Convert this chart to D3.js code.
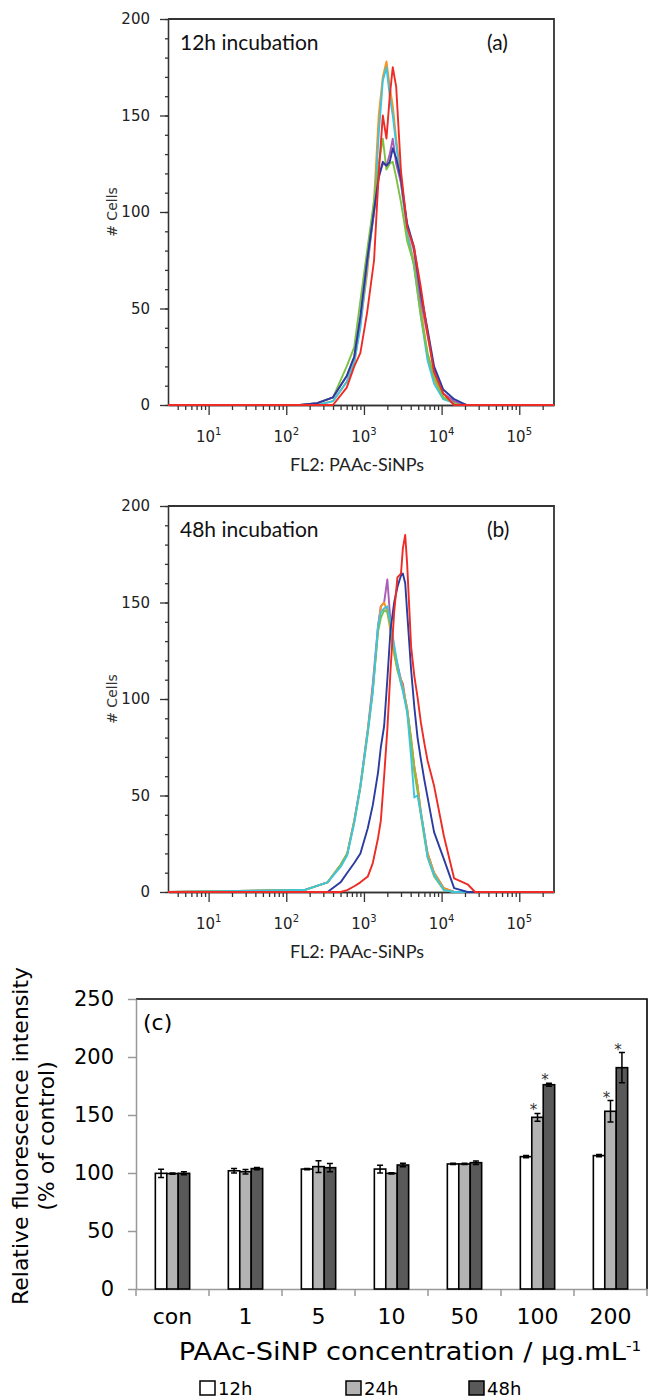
<!DOCTYPE html>
<html>
<head>
<meta charset="utf-8">
<script src="https://cdn.jsdelivr.net/npm/d3@7"></script>
<style>
  body { margin: 0; background: #fff; }
</style>
</head>
<body>
<div id="chart"></div>
<script>
// ---- data: flow histograms (FL2 intensity bins, cell counts) ----
const binsA = [3, 150, 250, 400, 600, 750, 900, 1100, 1350, 1550, 1750, 1950, 2150, 2350, 2600, 3000, 3600, 4400, 5400, 6600, 8000, 10500, 14500, 21000, 280000]
const orangeA = [0, 0, 0, 2, 12, 22, 42, 68, 106, 150, 170, 178, 165, 155, 138, 117, 90, 74, 50, 26, 13, 4, 1, 0, 0]
const cyanA   = [0, 0, 0, 2, 12, 22, 40, 72, 100, 140, 168, 175, 160, 150, 135, 115, 89, 72, 46, 23, 11, 3, 1, 0, 0]
const greenA  = [0, 0, 1, 4, 20, 30, 54, 80, 106, 125, 138, 122, 125, 126, 118, 105, 85, 73, 46, 27, 15, 4, 1, 0, 0]
const purpleA = [0, 0, 1, 4, 15, 25, 45, 74, 100, 118, 125, 124, 130, 138, 125, 115, 93, 80, 54, 36, 18, 6, 2, 0, 0]
const blueA   = [0, 0, 1, 4, 15, 25, 46, 75, 101, 118, 126, 124, 126, 133, 128, 117, 94, 82, 58, 39, 20, 8, 3, 0, 0]
const redA    = [0, 0, 0, 0, 9, 20, 27, 48, 75, 120, 150, 138, 160, 175, 165, 121, 92, 82, 61, 37, 17, 6, 0, 0, 0]

const binsB = [3, 170, 340, 500, 610, 750, 900, 1120, 1300, 1520, 1650, 1820, 2000, 2200, 2450, 2700, 3000, 3170, 3400, 3600, 4050, 4450, 4900, 5400, 6000, 6600, 8000, 10700, 14500, 21600, 27000, 280000]
const purpleB = [0, 1, 5, 14, 20, 37, 55, 84, 108, 138, 148, 150, 162, 140, 125, 118, 110, 108, 100, 95, 78, 65, 55, 41, 30, 20, 10, 2, 0, 0, 0, 0]
const orangeB = [0, 1, 5, 14, 20, 37, 55, 84, 105, 136, 148, 150, 145, 135, 123, 115, 110, 106, 100, 95, 80, 65, 55, 42, 30, 20, 10, 2, 0, 0, 0, 0]
const cyanB   = [0, 1, 5, 13, 19, 36, 55, 83, 104, 138, 145, 147, 148, 140, 128, 118, 108, 104, 98, 93, 70, 49, 50, 41, 30, 18, 9, 1, 0, 0, 0, 0]
const greenB  = [0, 1, 5, 14, 20, 36, 54, 82, 104, 135, 142, 146, 145, 138, 125, 115, 108, 105, 99, 94, 78, 62, 52, 40, 28, 18, 8, 1, 0, 0, 0, 0]
const blueB   = [0, 0, 0, 5, 10, 15, 20, 33, 45, 62, 75, 86, 110, 136, 150, 158, 164, 165, 160, 145, 115, 96, 80, 69, 58, 49, 31, 17, 2, 0, 0, 0]
const redB    = [0, 0, 0, 0, 1, 3, 5, 8, 15, 28, 37, 60, 84, 115, 145, 163, 165, 178, 185, 170, 127, 112, 101, 88, 77, 68, 55, 29, 7, 4, 0, 0]

const cellTicks = [0, 50, 100, 150, 200]
const decadeTicks = [10, 100, 1000, 10000, 100000]

// ---- data: bar chart (c) ----
const concentrations = ['con', '1', '5', '10', '50', '100', '200']
const times = ['12h', '24h', '48h']
const mean12h = [99.7, 101.9, 103.4, 103.4, 107.8, 114.1, 115.0]
const mean24h = [99.5, 101.1, 105.5, 99.7, 107.8, 148.0, 153.2]
const mean48h = [99.7, 103.8, 104.6, 106.9, 108.9, 176.1, 190.8]
const err12h = [3.5, 2.0, 0.5, 3.3, 0.5, 1.0, 1.0]
const err24h = [0.5, 2.0, 5.0, 0.5, 0.5, 3.3, 9.3]
const err48h = [1.3, 1.0, 3.5, 1.5, 1.5, 1.3, 13.0]
const sig12h = [0, 0, 0, 0, 0, 0, 0]
const sig24h = [0, 0, 0, 0, 0, 1, 1]
const sig48h = [0, 0, 0, 0, 0, 1, 1]
const intensityTicks = [0, 50, 100, 150, 200, 250]

const W = 651, H = 1398
const svg = d3.select('#chart').append('svg')
  .attr('width', W)
  .attr('height', H)
  .style('font-family', 'DejaVu Sans')

const axisColor = '#333'

// Draw one flow cytometry histogram panel
function drawFlow(top, bins, series, note, letter) {
  const bottom = top + 386
  const x = d3.scaleLog().domain([3, 280000]).range([168, 554])
  const y = d3.scaleLinear().domain([0, 200]).range([bottom, top])
  const g = svg.append('g')

  // frame top + right
  g.append('path')
    .attr('d', `M${x.range()[0]},${top}H${x.range()[1]}V${bottom}`)
    .attr('fill', 'none')
    .attr('stroke', axisColor)
    .attr('stroke-width', 1.8)

  // y axis, major + minor
  const yAx = g.append('g').attr('transform', `translate(${x.range()[0]},0)`)
  yAx.call(d3.axisLeft(y).tickValues(cellTicks).tickSize(8).tickSizeOuter(0).tickPadding(10))
  yAx.append('g').call(d3.axisLeft(y).tickValues(d3.range(0, 201, 10)).tickSize(3).tickSizeOuter(0).tickFormat(''))
  yAx.selectAll('path, line').attr('stroke', axisColor).attr('stroke-width', 1.3)
  yAx.selectAll('text').attr('font-size', 15).attr('fill', '#222').attr('font-family', 'DejaVu Sans')

  // x axis, decades + log minors
  const minor = []
  for (let k = 0; k < 6; k++) {
    for (let m = 2; m < 10; m++) {
      const v = m * Math.pow(10, k)
      if (v > 3 && v < 280000) minor.push(v)
    }
  }
  const xAx = g.append('g').attr('transform', `translate(0,${bottom})`)
  xAx.call(d3.axisBottom(x).tickValues(decadeTicks).tickSize(10).tickSizeOuter(0).tickFormat(''))
  xAx.append('g').call(d3.axisBottom(x).tickValues(minor).tickSize(5).tickSizeOuter(0).tickFormat(''))
  xAx.selectAll('path, line').attr('stroke', axisColor).attr('stroke-width', 1.3)

  const lbl = g.selectAll('.dec').data(decadeTicks).enter().append('text')
    .attr('x', d => x(d))
    .attr('y', bottom + 37)
    .attr('text-anchor', 'middle')
    .attr('font-size', 15)
    .attr('fill', '#222')
  lbl.append('tspan').text('10')
  lbl.append('tspan').attr('dy', -7).attr('font-size', 10).text(d => Math.round(Math.log10(d)))

  // histogram lines
  const line = d3.line()
    .x(d => x(d[0]))
    .y(d => y(d[1]))
  series.forEach(s => {
    g.append('path')
      .datum(bins.map((b, i) => [b, s.counts[i]]))
      .attr('fill', 'none')
      .attr('stroke', s.color)
      .attr('stroke-width', 1.9)
      .attr('stroke-linejoin', 'round')
      .attr('d', line)
  })

  // labels
  g.append('text')
    .attr('transform', `translate(117,${(top + bottom) / 2}) rotate(-90)`)
    .attr('text-anchor', 'middle')
    .attr('font-size', 14)
    .attr('fill', '#333')
    .text('# Cells')
  g.append('text')
    .attr('x', 357).attr('y', bottom + 66)
    .attr('text-anchor', 'middle')
    .attr('font-family', 'Lato')
    .attr('font-size', 18)
    .attr('fill', '#222')
    .text('FL2: PAAc-SiNPs')
  g.append('text')
    .attr('x', 180).attr('y', top + 31)
    .attr('font-family', 'Lato')
    .attr('font-size', 21)
    .attr('fill', '#111')
    .text(note)
  g.append('text')
    .attr('x', 487).attr('y', top + 31)
    .attr('font-family', 'Lato')
    .attr('font-size', 21)
    .attr('fill', '#111')
    .text(letter)
}

const colors = { orange: '#f7941d', cyan: '#3fc4de', green: '#7cc242', purple: '#a95db8', blue: '#2c3b9e', red: '#ee2b24' }

drawFlow(19, binsA, [
  { counts: orangeA, color: colors.orange },
  { counts: cyanA, color: colors.cyan },
  { counts: greenA, color: colors.green },
  { counts: purpleA, color: colors.purple },
  { counts: blueA, color: colors.blue },
  { counts: redA, color: colors.red }
], '12h incubation', '(a)')

drawFlow(506, binsB, [
  { counts: purpleB, color: colors.purple },
  { counts: orangeB, color: colors.orange },
  { counts: greenB, color: colors.green },
  { counts: cyanB, color: colors.cyan },
  { counts: blueB, color: colors.blue },
  { counts: redB, color: colors.red }
], '48h incubation', '(b)')

// ---- panel (c): bar chart ----
const gc = svg.append('g')
gc.append('rect').attr('x', 0).attr('y', 958).attr('width', W).attr('height', H - 958).attr('fill', '#fff')

const x0 = d3.scaleBand().domain(concentrations).range([136, 647]).paddingInner(0.53).paddingOuter(0.265)
const x1 = d3.scaleBand().domain(times).range([0, x0.bandwidth()])
const yc = d3.scaleLinear().domain([0, 250]).range([1289, 999])
const gray = '#999'

// frame top + right
gc.append('path')
  .attr('d', `M${x0.range()[0]},${yc(250)}H${x0.range()[1]}V${yc(0)}`)
  .attr('fill', 'none').attr('stroke', '#000').attr('stroke-width', 1.6)

const yAxC = gc.append('g').attr('transform', `translate(${x0.range()[0]},0)`)
  .call(d3.axisLeft(yc).tickValues(intensityTicks).tickSize(8).tickSizeOuter(0).tickPadding(14))
yAxC.selectAll('path, line').attr('stroke', gray).attr('stroke-width', 1.5)
yAxC.selectAll('text').attr('font-size', 21).attr('fill', '#000').attr('font-family', 'DejaVu Sans')

const bounds = concentrations.map(c => x0(c) - (x0.step() - x0.bandwidth()) / 2)
bounds.push(x0.range()[1])
const xAxC = gc.append('g').attr('transform', `translate(0,${yc(0)})`)
  .call(d3.axisBottom(x0).tickSize(0).tickSizeOuter(0))
xAxC.select('.domain').attr('stroke', gray).attr('stroke-width', 1.5)
xAxC.selectAll('text')
  .attr('y', 35).attr('dy', 0)
  .attr('font-size', 22).attr('fill', '#000').attr('font-family', 'DejaVu Sans')
xAxC.selectAll('.bnd').data(bounds).enter().append('line')
  .attr('x1', d => d).attr('x2', d => d)
  .attr('y1', 0).attr('y2', 7)
  .attr('stroke', gray).attr('stroke-width', 1.5)

const barSeries = [
  { mean: mean12h, err: err12h, sig: sig12h, fill: '#ffffff' },
  { mean: mean24h, err: err24h, sig: sig24h, fill: '#b3b3b3' },
  { mean: mean48h, err: err48h, sig: sig48h, fill: '#595959' }
]

concentrations.forEach((c, ci) => {
  const grp = gc.append('g').attr('transform', `translate(${x0(c)},0)`)
  barSeries.forEach((s, si) => {
    const t = times[si]
    const v = s.mean[ci], e = s.err[ci]
    const cx = x1(t) + x1.bandwidth() / 2
    grp.append('rect')
      .attr('x', x1(t))
      .attr('y', yc(v))
      .attr('width', x1.bandwidth())
      .attr('height', yc(0) - yc(v))
      .attr('fill', s.fill)
      .attr('stroke', '#000')
      .attr('stroke-width', 1.6)
    grp.append('path')
      .attr('d', `M${cx},${yc(v - e)}V${yc(v + e)}M${cx - 3},${yc(v + e)}H${cx + 3}M${cx - 3},${yc(v - e)}H${cx + 3}`)
      .attr('fill', 'none')
      .attr('stroke', '#000')
      .attr('stroke-width', 1.5)
    if (s.sig[ci]) {
      grp.append('text')
        .attr('x', cx - 4)
        .attr('y', yc(v + e) + 2)
        .attr('text-anchor', 'middle')
        .attr('font-size', 15)
        .attr('fill', '#333')
        .text('*')
    }
  })
})

gc.append('text')
  .attr('x', 143).attr('y', 1030)
  .attr('font-size', 22)
  .text('(c)')

// axis titles
gc.append('text')
  .attr('transform', 'translate(28,1136) rotate(-90)')
  .attr('text-anchor', 'middle')
  .attr('font-size', 22)
  .text('Relative fluorescence intensity')
gc.append('text')
  .attr('transform', 'translate(54,1136) rotate(-90)')
  .attr('text-anchor', 'middle')
  .attr('font-size', 22)
  .text('(% of control)')

// original figure text is slightly stretched horizontally
const xt = gc.append('text')
  .attr('transform', 'translate(410,1360) scale(1.09,1)')
  .attr('text-anchor', 'middle')
  .attr('font-size', 25)
xt.append('tspan').text('PAAc-SiNP concentration / µg.mL')
xt.append('tspan').attr('dy', -9).attr('font-size', 14).text('-1')

// legend
const legendX = [200, 346, 469]
times.forEach((t, i) => {
  gc.append('rect')
    .attr('x', legendX[i]).attr('y', 1381)
    .attr('width', 15).attr('height', 14)
    .attr('fill', barSeries[i].fill)
    .attr('stroke', '#000').attr('stroke-width', 1.5)
  gc.append('text')
    .attr('x', legendX[i] + 18).attr('y', 1395)
    .attr('font-size', 18)
    .text(t)
})
</script>
</body>
</html>
